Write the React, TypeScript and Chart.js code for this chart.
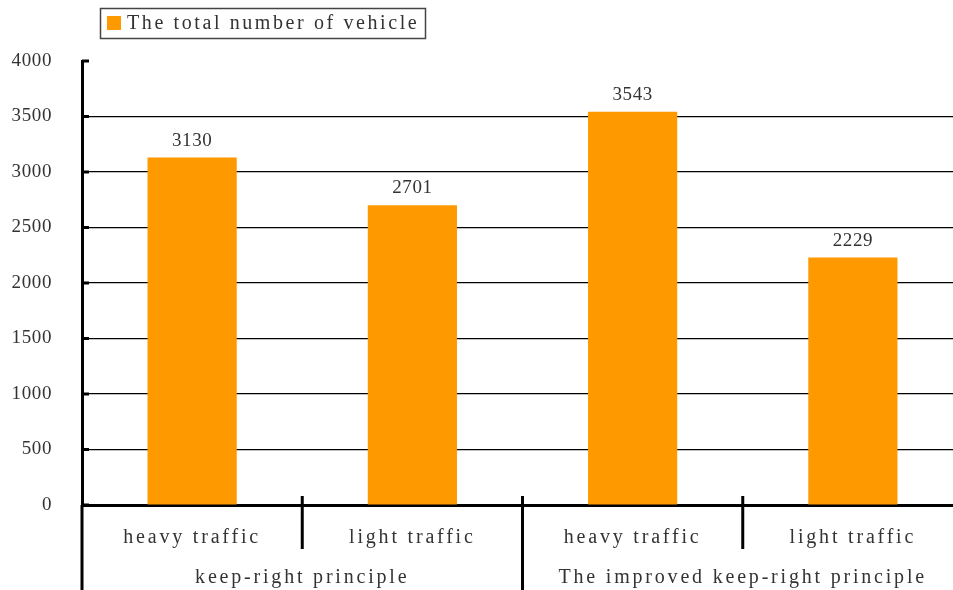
import React, { useEffect, useRef } from "react";
import { Chart, registerables } from "chart.js";

Chart.register(...registerables);

const categories = ["heavy traffic", "light traffic", "heavy traffic", "light traffic"];
const groupLabels = ["keep-right principle", "The improved keep-right principle"];
const groupSizes = [2, 2];
const seriesLabel = "The total number of vehicle";
const values = [3130, 2701, 3543, 2229];
const yMin = 0;
const yMax = 4000;
const yStep = 500;

const FONT = "'Liberation Serif', serif";
const WORD_SPACING = "2.8px";
const LEGEND_SPACING = "2.6px";
const DIGIT_SPACING = "0.6px";
const TEXT = "#333333";
const BAR = "#FF9900";

const setSpacing = (chart: any, sp: string) => {
  if ("letterSpacing" in chart.ctx) chart.ctx.letterSpacing = sp;
};

const overlay = {
  id: "overlay",
  beforeLayout(chart: any) {
    setSpacing(chart, WORD_SPACING);
  },
  beforeDraw(chart: any) {
    setSpacing(chart, WORD_SPACING);
  },
  afterDatasetsDraw(chart: any) {
    // y tick labels (drawn after datasets, z = 1) use digit spacing
    setSpacing(chart, DIGIT_SPACING);
  },
  afterDraw(chart: any) {
    const { ctx, chartArea, scales } = chart;
    const x = scales.x;
    const y = scales.y;
    const H = chart.height;
    ctx.save();
    ctx.strokeStyle = "#000";
    ctx.lineCap = "butt";
    ctx.lineWidth = 3;
    ctx.beginPath();
    ctx.moveTo(chartArea.left, chartArea.bottom);
    ctx.lineTo(chartArea.left, H);
    ctx.stroke();
    y.ticks.forEach((t: any) => {
      const py = y.getPixelForValue(t.value);
      ctx.beginPath();
      ctx.moveTo(chartArea.left, py);
      ctx.lineTo(chartArea.left + 7, py);
      ctx.stroke();
    });
    let boundaryIdx = 0;
    const groupEnds: number[] = [];
    groupSizes.forEach((s) => {
      boundaryIdx += s;
      groupEnds.push(boundaryIdx);
    });
    for (let i = 0; i < categories.length - 1; i++) {
      const sx = (x.getPixelForValue(i) + x.getPixelForValue(i + 1)) / 2;
      const isGroup = groupEnds.includes(i + 1);
      ctx.beginPath();
      ctx.moveTo(sx, chartArea.bottom - 9);
      ctx.lineTo(sx, isGroup ? H : chartArea.bottom + 44);
      ctx.stroke();
    }
    ctx.fillStyle = TEXT;
    ctx.textAlign = "center";
    ctx.textBaseline = "middle";
    // data labels
    setSpacing(chart, DIGIT_SPACING);
    ctx.font = `19px ${FONT}`;
    const meta = chart.getDatasetMeta(0);
    meta.data.forEach((bar: any, i: number) => {
      ctx.fillText(String(values[i]), bar.x, bar.y - 17);
    });
    // group labels
    setSpacing(chart, WORD_SPACING);
    ctx.font = `20px ${FONT}`;
    let start = 0;
    groupLabels.forEach((g, gi) => {
      const end = start + groupSizes[gi] - 1;
      const cx = (x.getPixelForValue(start) + x.getPixelForValue(end)) / 2;
      ctx.fillText(g, cx, chartArea.bottom + 73);
      start += groupSizes[gi];
    });
    // legend
    ctx.lineWidth = 1.5;
    ctx.strokeStyle = "#444";
    ctx.strokeRect(100.5, 8.5, 325, 30);
    ctx.fillStyle = BAR;
    ctx.fillRect(107, 16, 14, 14);
    ctx.fillStyle = TEXT;
    ctx.textAlign = "left";
    setSpacing(chart, LEGEND_SPACING);
    ctx.fillText(seriesLabel, 127, 24);
    ctx.restore();
  },
};

export default function App() {
  const ref = useRef<HTMLCanvasElement>(null);
  useEffect(() => {
    document.body.style.margin = "0";
    const chart = new Chart(ref.current!, {
      type: "bar",
      data: {
        labels: categories,
        datasets: [
          {
            label: seriesLabel,
            data: values,
            backgroundColor: BAR,
            borderWidth: 0,
            categoryPercentage: 1,
            barPercentage: 0.405,
          },
        ],
      },
      options: {
        animation: false,
        responsive: false,
        layout: { padding: { top: 61, right: 0, left: 0, bottom: 0 } },
        plugins: { legend: { display: false }, tooltip: { enabled: false } },
        scales: {
          x: {
            afterFit: (s: any) => {
              s.height = 85;
            },
            grid: { display: false, drawTicks: false },
            border: { display: true, color: "#000", width: 3 },
            ticks: {
              color: TEXT,
              font: { family: FONT, size: 20 },
              padding: 21,
              maxRotation: 0,
            },
          },
          y: {
            min: yMin,
            max: yMax,
            afterFit: (s: any) => {
              s.width = 82;
            },
            ticks: {
              z: 1,
              stepSize: yStep,
              color: TEXT,
              font: { family: FONT, size: 19 },
              padding: 30,
              callback: (v: any) => String(v),
            },
            grid: {
              drawTicks: false,
              color: (c: any) =>
                c.tick && c.tick.value > yMin && c.tick.value < yMax ? "#000" : "rgba(0,0,0,0)",
              lineWidth: 1.2,
            },
            border: { display: true, color: "#000", width: 3 },
          },
        },
      },
      plugins: [overlay],
    });
    return () => chart.destroy();
  }, []);
  return (
    <div style={{ position: "absolute", left: 0, top: 0, width: 953, height: 590, overflow: "hidden" }}>
      <canvas ref={ref} width={963} height={590} />
    </div>
  );
}
